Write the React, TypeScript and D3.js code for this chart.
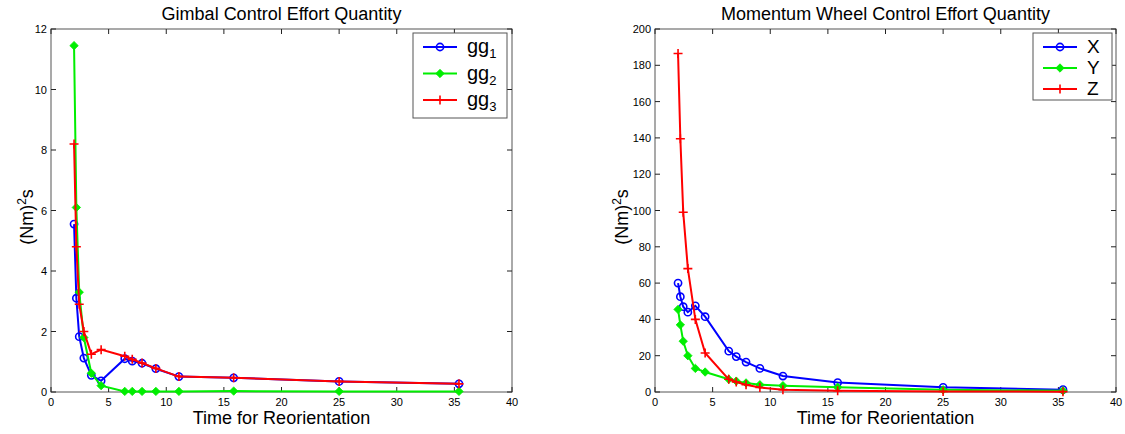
import React from 'react';
import * as d3 from 'd3';

// reorientation times (s)
const times = [2.0, 2.2, 2.45, 2.85, 3.5, 4.35, 6.4, 7.05, 7.9, 9.1, 11.1, 15.85, 25.0, 35.4];

// gimbal effort
const gg1 = [5.55, 3.1, 1.83, 1.12, 0.55, 0.37, 1.1, 1.02, 0.95, 0.77, 0.51, 0.47, 0.35, 0.27];
const gg2 = [11.45, 6.1, 3.3, 1.8, 0.62, 0.21, 0.02, 0.02, 0.02, 0.02, 0.02, 0.03, 0.02, 0.02];
const gg3 = [8.2, 4.8, 2.9, 2.0, 1.25, 1.4, 1.18, 1.08, 0.96, 0.78, 0.51, 0.47, 0.35, 0.27];

// momentum wheel effort
const mwX = [60, 52.5, 47, 44, 47.5, 41.5, 22.5, 19.5, 16.5, 13, 8.8, 5.2, 2.6, 1.3];
const mwY = [45.5, 37, 28, 20, 13, 11, 7, 6, 5, 4, 3.5, 2.6, 1.2, 0.7];
const mwZ = [186.5, 139.5, 99, 68, 40, 21.5, 7, 5.5, 4, 2.5, 1.3, 0.7, 0.3, 0.2];

const xTicks = [0, 5, 10, 15, 20, 25, 30, 35, 40];
const leftYTicks = [0, 2, 4, 6, 8, 10, 12];
const rightYTicks = [0, 20, 40, 60, 80, 100, 120, 140, 160, 180, 200];

const BLUE = '#0000ff';
const GREEN = '#00ee00';
const RED = '#ff0000';
const FONT = 'Liberation Sans, Arial, sans-serif';

type Series = { name: string; sub?: string; values: number[]; color: string; marker: 'o' | 'd' | '+' };

function Marker({ kind, x, y, color }: { kind: string; x: number; y: number; color: string }) {
  if (kind === 'o') return <circle cx={x} cy={y} r={3.6} fill="none" stroke={color} strokeWidth={1.6} />;
  if (kind === 'd')
    return <path d={`M${x},${y - 4.2}L${x + 4.2},${y}L${x},${y + 4.2}L${x - 4.2},${y}Z`} fill={color} stroke={color} strokeWidth={0.8} />;
  return <path d={`M${x - 4.5},${y}H${x + 4.5}M${x},${y - 4.5}V${y + 4.5}`} stroke={color} strokeWidth={1.6} />;
}

function Panel({ left, title, yMax, yTicks, series, legend, yLabelX }: {
  left: number; title: string; yMax: number; yTicks: number[]; series: Series[]; yLabelX: number;
  legend: { x: number; w: number; h: number; rowH: number; fs: number };
}) {
  const top = 29, bottom = 392, width = 461;
  const x = d3.scaleLinear().domain([0, 40]).range([left, left + width]);
  const y = d3.scaleLinear().domain([0, yMax]).range([bottom, top]);
  const line = d3.line<number>().x((_, i) => x(times[i])).y(d => y(d));
  const axisColor = '#222';
  return (
    <g fontFamily={FONT}>
      <rect x={left} y={top} width={width} height={bottom - top} fill="#fff" stroke="#555" strokeWidth={1} />
      {xTicks.map(t => (
        <g key={'x' + t}>
          <line x1={x(t)} x2={x(t)} y1={bottom} y2={bottom - 5} stroke={axisColor} />
          <line x1={x(t)} x2={x(t)} y1={top} y2={top + 5} stroke={axisColor} />
          <text x={x(t)} y={bottom + 14} fontSize={11} textAnchor="middle" fill="#000">{t}</text>
        </g>
      ))}
      {yTicks.map(t => (
        <g key={'y' + t}>
          <line x1={left} x2={left + 5} y1={y(t)} y2={y(t)} stroke={axisColor} />
          <line x1={left + width} x2={left + width - 5} y1={y(t)} y2={y(t)} stroke={axisColor} />
          <text x={left - 4} y={y(t) + 4} fontSize={11} textAnchor="end" fill="#000">{t}</text>
        </g>
      ))}
      {series.map(s => (
        <g key={s.name + (s.sub || '')}>
          <path d={line(s.values) || ''} fill="none" stroke={s.color} strokeWidth={2} />
          {s.values.map((v, i) => <Marker key={i} kind={s.marker} x={x(times[i])} y={y(v)} color={s.color} />)}
        </g>
      ))}
      <text x={left + width / 2} y={20} fontSize={18} textAnchor="middle" fill="#000">{title}</text>
      <text x={left + width / 2} y={424} fontSize={18} textAnchor="middle" fill="#000">Time for Reorientation</text>
      <text transform={`translate(${yLabelX},217) rotate(-90)`} fontSize={18} textAnchor="middle" fill="#000">
        (Nm)<tspan dy={-7} fontSize={12}>2</tspan><tspan dy={7}>s</tspan>
      </text>
      <g transform={`translate(${legend.x},33)`}>
        <rect x={0} y={0} width={legend.w} height={legend.h} fill="#fff" stroke="#555" strokeWidth={1} />
        {series.map((s, i) => {
          const ly = 14 + i * legend.rowH;
          return (
            <g key={'l' + i}>
              <line x1={10} x2={44} y1={ly} y2={ly} stroke={s.color} strokeWidth={2} />
              <Marker kind={s.marker} x={27} y={ly} color={s.color} />
              <text x={54} y={ly + 6} fontSize={legend.fs} fill="#000">
                {s.name}{s.sub ? <tspan dy={5} fontSize={legend.fs * 0.65}>{s.sub}</tspan> : null}
              </text>
            </g>
          );
        })}
      </g>
    </g>
  );
}

export default function App() {
  const gimbal: Series[] = [
    { name: 'gg', sub: '1', values: gg1, color: BLUE, marker: 'o' },
    { name: 'gg', sub: '2', values: gg2, color: GREEN, marker: 'd' },
    { name: 'gg', sub: '3', values: gg3, color: RED, marker: '+' },
  ];
  const wheel: Series[] = [
    { name: 'X', values: mwX, color: BLUE, marker: 'o' },
    { name: 'Y', values: mwY, color: GREEN, marker: 'd' },
    { name: 'Z', values: mwZ, color: RED, marker: '+' },
  ];
  return (
    <svg width={1125} height={434} style={{ position: 'absolute', left: 0, top: 0, background: '#fff' }}>
      <rect width={1125} height={434} fill="#fff" />
      <Panel left={51} title="Gimbal Control Effort Quantity" yMax={12} yTicks={leftYTicks} series={gimbal}
        legend={{ x: 413, w: 94, h: 85, rowH: 26.5, fs: 20 }} yLabelX={33} />
      <Panel left={655} title="Momentum Wheel Control Effort Quantity" yMax={200} yTicks={rightYTicks} series={wheel}
        legend={{ x: 1033, w: 79, h: 67, rowH: 21, fs: 19 }} yLabelX={628} />
    </svg>
  );
}
